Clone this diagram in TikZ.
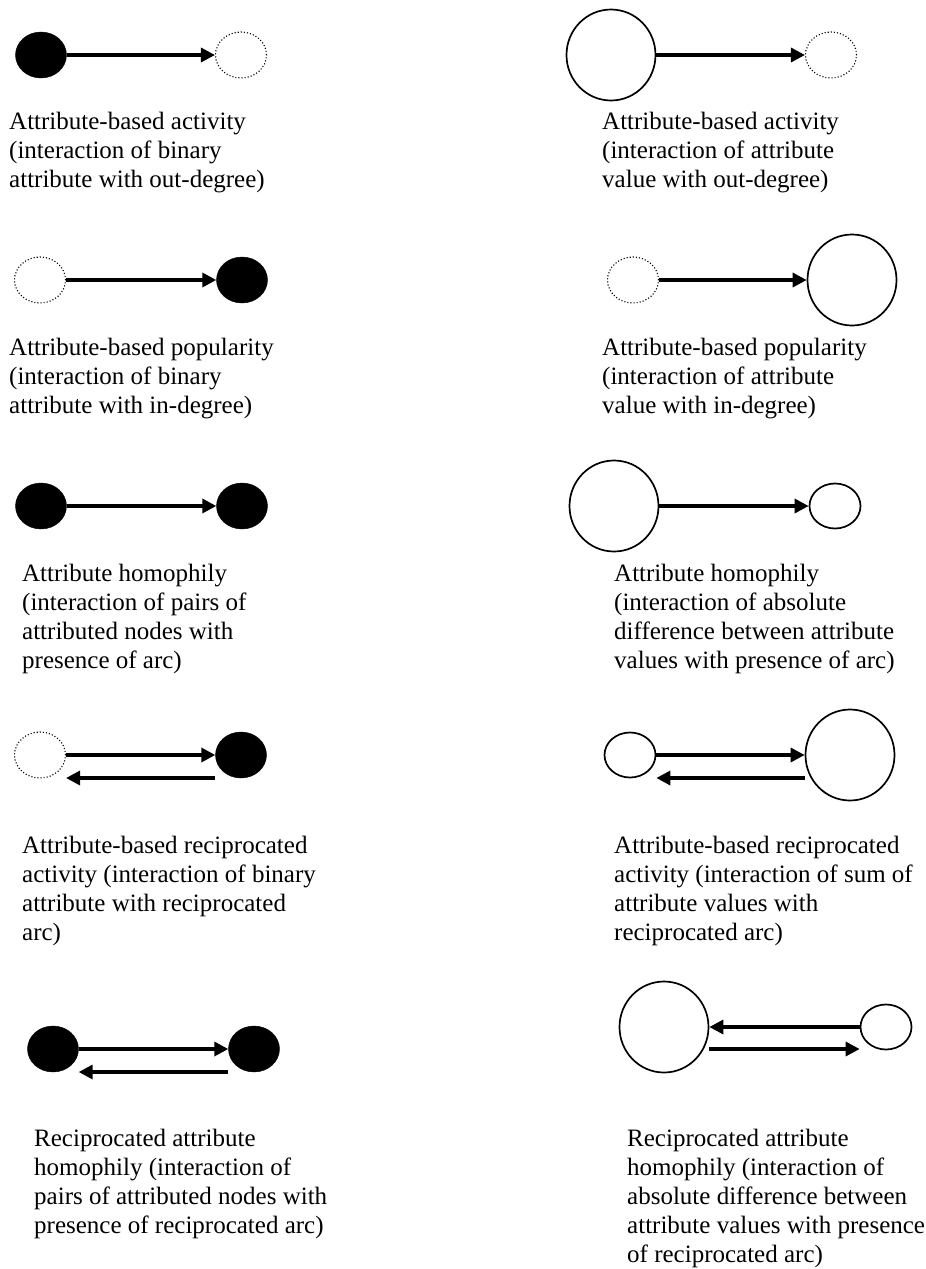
\documentclass[tikz,border=0pt]{standalone}
\usepackage{fontspec}
\setmainfont{LiberationSerif}[Extension=.ttf, UprightFont=*-Regular]
\usetikzlibrary{arrows.meta,shapes.geometric}
\tikzset{
	attr/.style={ellipse, draw, fill=black, minimum width=51pt, minimum height=46pt, inner sep=0pt},
	noattr/.style={ellipse, draw, dotted, line width=1.1pt, minimum width=51pt, minimum height=46pt, inner sep=0pt},
	smallval/.style={ellipse, draw, line width=1.7pt, minimum width=51pt, minimum height=45pt, inner sep=0pt},
	bigval/.style={ellipse, draw, line width=1.7pt, minimum width=89pt, minimum height=91pt, inner sep=0pt},
	tie/.style={line width=3.3pt, -{Triangle[length=14pt,width=14pt]}},
	caption/.style={anchor=north west, align=left, inner sep=0pt, yshift=20.3pt, font=\fontsize{25}{29}\selectfont, execute at begin node=\strut}
}
\begin{document}
\begin{tikzpicture}[x=1pt,y=-1pt]
			%%%%% START %%%%%
			\useasboundingbox[fill=white] (0,0) rectangle (926,1269);
			
			% binary attribute, left column
			\node[attr] (a1) at (41,55) {};
			\node[noattr] (b1) at (241,55) {};
			\draw[tie] (a1) -- (b1);
			\node[caption] (la1) at (9,132) {Attribute-based activity\\(interaction of binary\\attribute with out-degree)};
			
			\node[noattr] (a2) at (40,280) {};
			\node[attr] (b2) at (242,280) {};
			\draw[tie] (a2) -- (b2);
			\node[caption] (la2) at (9,358) {Attribute-based popularity\\(interaction of binary\\attribute with in-degree)};
			
			\node[attr] (a3) at (41,506) {};
			\node[attr] (b3) at (242,506) {};
			\draw[tie] (a3) -- (b3);
			\node[caption] (la3) at (22,584) {Attribute homophily\\(interaction of pairs of\\attributed nodes with\\presence of arc)};
			
			\node[noattr] (a4) at (40,755) {};
			\node[attr] (b4) at (241,755) {};
			\draw[tie] (a4) -- (b4);
			\draw[tie] ([yshift=-23pt]b4.west) -- ([yshift=-23pt]a4.east);
			\node[caption] (la4) at (22,856) {Attribute-based reciprocated\\activity (interaction of binary\\attribute with reciprocated\\arc)};
			
			\node[attr] (a5) at (53,1049) {};
			\node[attr] (b5) at (254,1049) {};
			\draw[tie] (a5) -- (b5);
			\draw[tie] ([yshift=-23pt]b5.west) -- ([yshift=-23pt]a5.east);
			\node[caption] (la5) at (34,1149) {Reciprocated attribute\\homophily (interaction of\\pairs of attributed nodes with\\presence of reciprocated arc)};
			
			% attribute values, right column
			\node[bigval] (A1) at (611,55) {};
			\node[noattr] (B1) at (831,55) {};
			\draw[tie] (A1) -- (B1);
			\node[caption] (lb1) at (602,132) {Attribute-based activity\\(interaction of attribute\\value with out-degree)};
			
			\node[noattr] (A2) at (633,280) {};
			\node[bigval] (B2) at (852,280) {};
			\draw[tie] (A2) -- (B2);
			\node[caption] (lb2) at (602,358) {Attribute-based popularity\\(interaction of attribute\\value with in-degree)};
			
			\node[bigval] (A3) at (614,506) {};
			\node[smallval] (B3) at (835,506) {};
			\draw[tie] (A3) -- (B3);
			\node[caption] (lb3) at (614,584) {Attribute homophily\\(interaction of absolute\\difference between attribute\\values with presence of arc)};
			
			\node[smallval] (A4) at (630,755) {};
			\node[bigval] (B4) at (850,755) {};
			\draw[tie] (A4) -- (B4);
			\draw[tie] ([yshift=-23pt]B4.west) -- ([yshift=-23pt]A4.east);
			\node[caption] (lb4) at (614,856) {Attribute-based reciprocated\\activity (interaction of sum of\\attribute values with\\reciprocated arc)};
			
			\node[bigval] (A5) at (664,1027) {};
			\node[smallval] (B5) at (886,1027) {};
			\draw[tie] (B5) -- (A5);
			\draw[tie] ([yshift=-22pt]A5.east) -- ([yshift=-22pt]B5.west);
			\node[caption] (lb5) at (627,1149) {Reciprocated attribute\\homophily (interaction of\\absolute difference between\\attribute values with presence\\of reciprocated arc)};
			
			%%%%% END %%%%%
\end{tikzpicture}
\end{document}
